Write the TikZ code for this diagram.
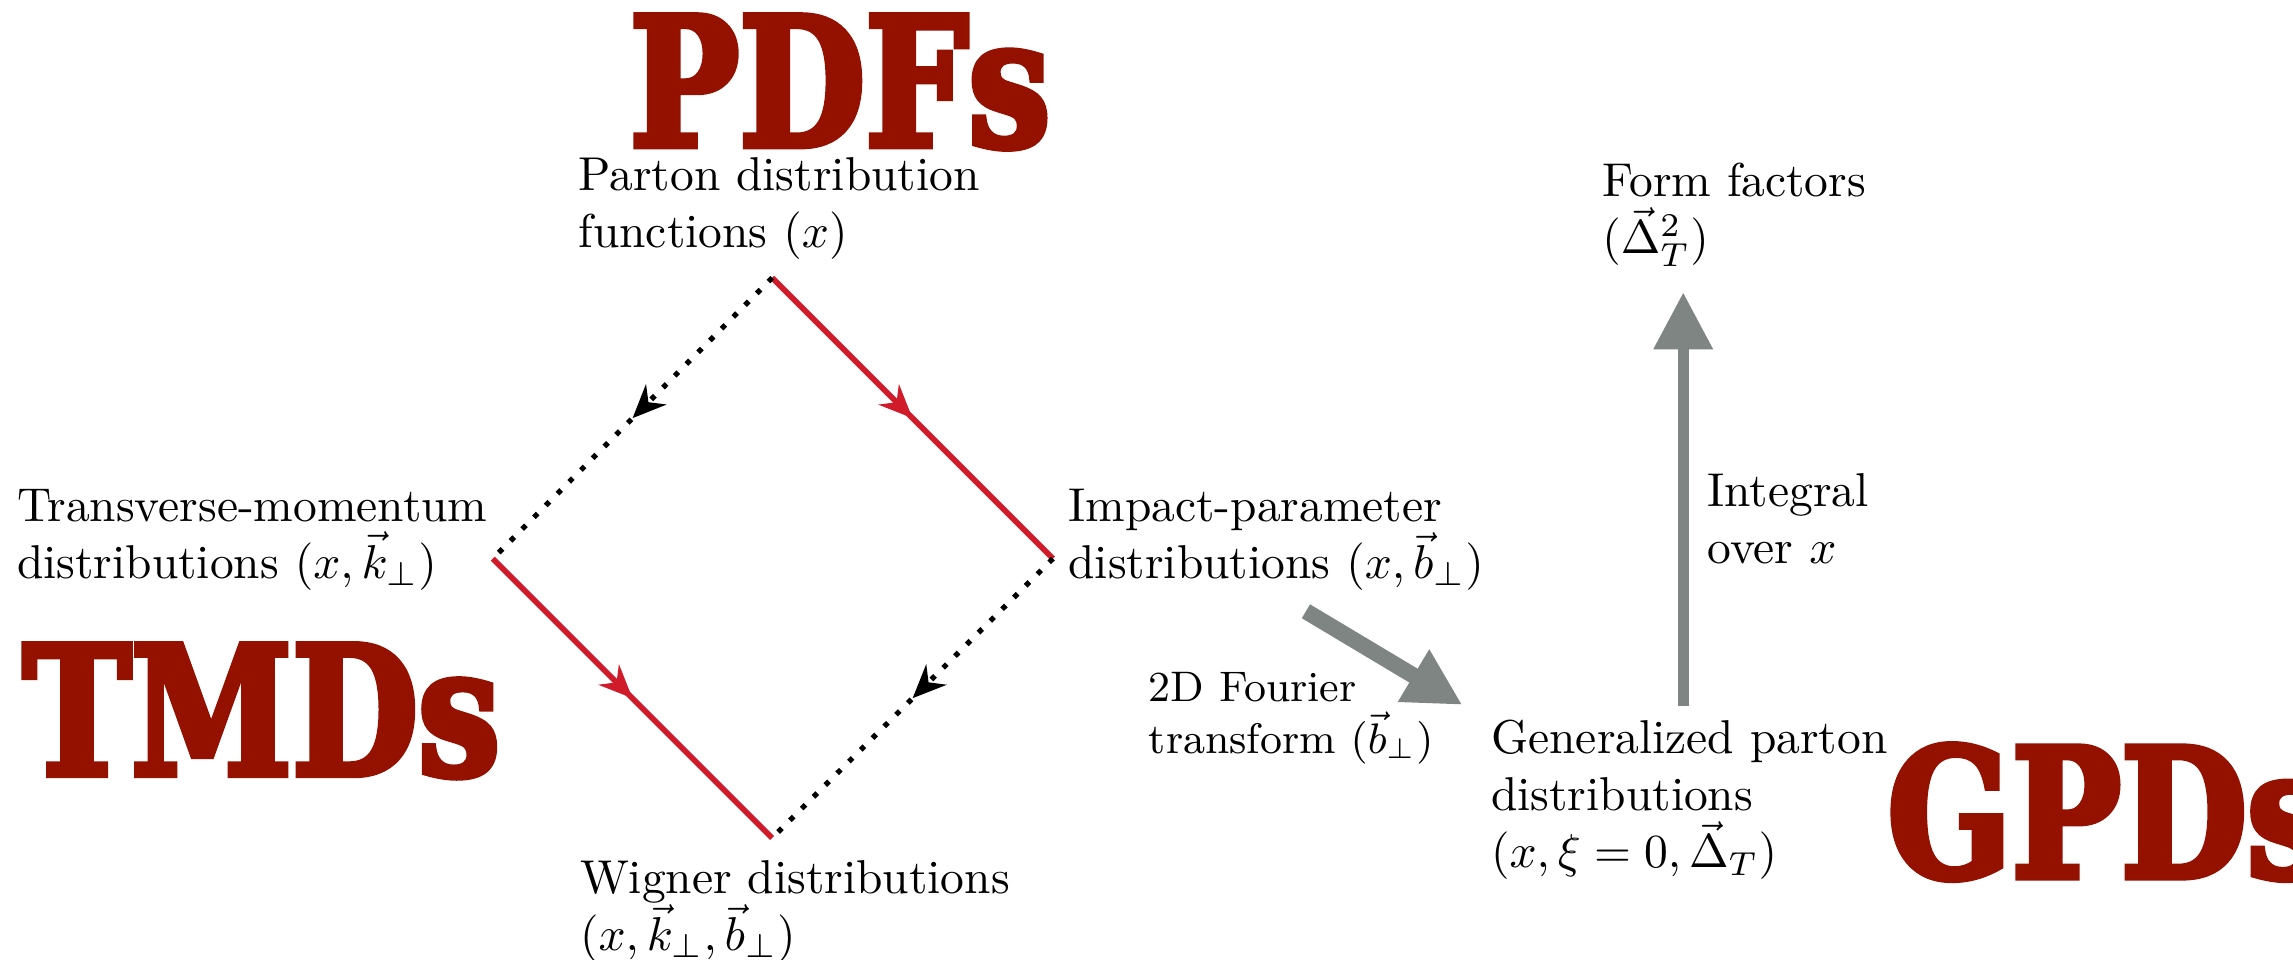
\documentclass[tikz,border=0pt]{standalone}
\usepackage{fontspec}
\newfontfamily\slabfont[FakeBold=3.5,FakeStretch=0.81]{DejaVu Serif}
\usetikzlibrary{arrows.meta,decorations.markings}
\definecolor{slabred}{RGB}{148,17,0}
\definecolor{linered}{RGB}{208,28,42}
\definecolor{arrowgray}{RGB}{127,133,130}

\begin{document}
\begin{tikzpicture}[x=0.3079pt,y=-0.3079pt,
  txt/.style={anchor=north west,inner sep=0pt,align=left},
  big/.style={anchor=base west,inner sep=0pt,text=slabred,font=\slabfont\bfseries\fontsize{37.8}{38}\selectfont},
  midarrow/.style={postaction={decorate},decoration={markings,mark=at position 0.5 with {\arrow{Stealth[length=7pt,width=6pt]}}}},
  redline/.style={draw=linered,line width=1.2pt,midarrow},
  dotline/.style={draw=black,line width=1.1pt,dash pattern=on 1.1pt off 2.4pt,midarrow},
  grayarrow/.style={draw=arrowgray,-{Triangle[length=12pt,width=12pt]}}]
  \useasboundingbox (0,0) rectangle (1568,656);
  % big labels
  \node[big] (pdfs) at (430,100) {PDFs};
  \node[big] (tmds) at (15,530) {TMDs};
  \node[big] (gpds) at (1290,600) {GPDs};
  % distributions
  \node[txt] (pdf) at (395,107) {Parton distribution\\functions $(x)$};
  \node[txt] (tmd) at (11,334) {Transverse-momentum\\distributions $(x,\vec{k}_\perp)$};
  \node[txt] (ipd) at (730,334) {Impact-parameter\\distributions $(x,\vec{b}_\perp)$};
  \node[txt] (wig) at (396,588) {Wigner distributions\\$(x,\vec{k}_\perp,\vec{b}_\perp)$};
  \node[txt] (ff) at (1095,111) {Form factors\\$(\vec{\Delta}_T^2)$};
  \node[txt] (gpd) at (1019,492) {Generalized parton\\distributions\\$(x,\xi=0,\vec{\Delta}_T)$};
  \node[txt,font=\small] (four) at (785,459) {2D Fourier\\transform $(\vec{b}_\perp)$};
  \node[txt] (intx) at (1167,323) {Integral\\over $x$};
  % diamond
  \coordinate (top) at (528,190);
  \coordinate (lft) at (337,382);
  \coordinate (rgt) at (720,382);
  \coordinate (bot) at (528,573);
  \draw[redline] (top) -- (rgt);
  \draw[redline] (lft) -- (bot);
  \draw[dotline] (top) -- (lft);
  \draw[dotline] (rgt) -- (bot);
  % transforms
  \coordinate (fs) at (893,418);
  \coordinate (fe) at (1000,482);
  \coordinate (is) at (1151,483);
  \coordinate (ie) at (1151,200);
  \draw[grayarrow,line width=3.4pt] (fs) -- (fe);
  \draw[grayarrow,line width=2.3pt] (is) -- (ie);
\end{tikzpicture}
\end{document}
